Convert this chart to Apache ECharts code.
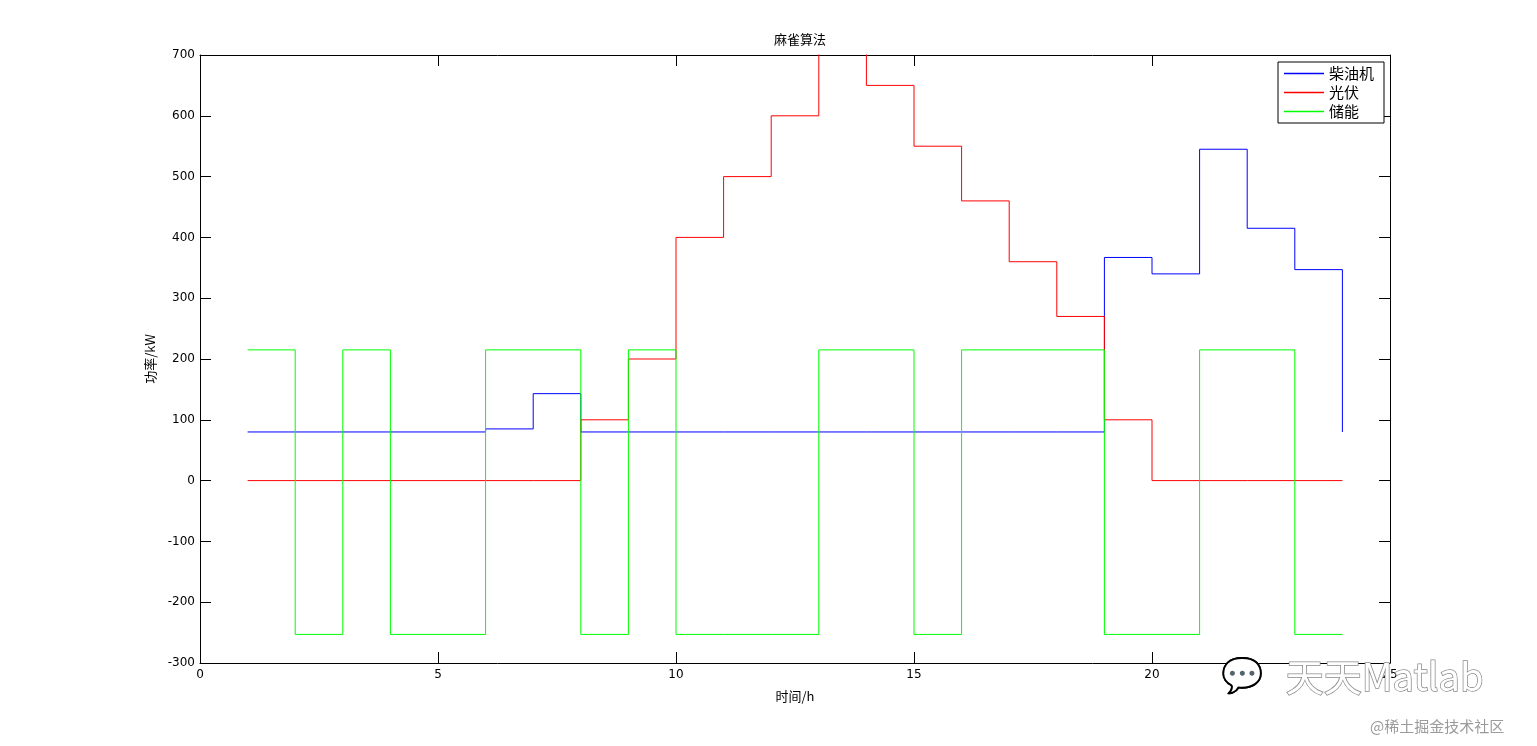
<!DOCTYPE html>
<html>
<head>
<meta charset="utf-8">
<script src="https://cdn.jsdelivr.net/npm/echarts@6/dist/echarts.min.js"></script>
<style>
html,body{margin:0;padding:0;background:#fff;}
#chart{width:1537px;height:746px;}
</style>
</head>
<body>
<div id="chart"></div>
<script>
const hours = [1,2,3,4,5,6,7,8,9,10,11,12,13,14,15,16,17,18,19,20,21,22,23,24];
const diesel = [80,80,80,80,80,85,143,80,80,80,80,80,80,80,80,80,80,80,367,340,545,415,347,80];
const pv = [0,0,0,0,0,0,0,100,200,400,500,600,750,650,550,460,360,270,100,0,0,0,0,0];
const storage = [215,-253,215,-253,-253,215,215,-253,215,-253,-253,-253,215,215,-253,215,215,215,-253,-253,215,215,-253,-253];
const seriesNames = ['柴油机','光伏','储能'];
const xTicks = [0,5,10,15,20,25];

const fontCJK = '"Noto Sans CJK SC", "DejaVu Sans", sans-serif';
const chart = echarts.init(document.getElementById('chart'), null, {renderer:'canvas'});

function pairs(ys){ return hours.map((h,i)=>[h, ys[i]]); }
function mk(name, ys, color){
  return {name, type:'line', step:'end', data:pairs(ys), showSymbol:false, symbol:'none',
    lineStyle:{color, width:1}, itemStyle:{color}, animation:false, clip:true};
}
const axisCommonX = {type:'value', min:0, max:25, interval:5,
  axisLine:{show:true, onZero:false, lineStyle:{color:'#000', width:1}},
  axisTick:{show:true, inside:true, length:11, lineStyle:{color:'#000'}},
  splitLine:{show:false}};
const axisCommonY = {type:'value', min:-300, max:700, interval:100,
  axisLine:{show:true, onZero:false, lineStyle:{color:'#000', width:1}},
  axisTick:{show:true, inside:true, length:11, lineStyle:{color:'#000'}},
  splitLine:{show:false}};

chart.setOption({
  backgroundColor:'#fff',
  animation:false,
  title:{text:'麻雀算法', left:795, textAlign:'center', top:28,
    textStyle:{fontFamily:fontCJK, fontSize:13, fontWeight:'normal', color:'#000'}},
  grid:{left:200, right:147, top:55, bottom:83, containLabel:false},
  legend:{orient:'vertical', left:1278, top:62, padding:[3,10,3,6], itemGap:2,
    borderColor:'#000', borderWidth:1, backgroundColor:'#fff',
    icon:'rect', itemWidth:40, itemHeight:1.5,
    textStyle:{fontFamily:fontCJK, fontSize:15, color:'#000', padding:[0,0,0,0], lineHeight:17},
    data:seriesNames},
  xAxis:[
    Object.assign({}, axisCommonX, {position:'bottom', name:'时间/h', nameLocation:'middle', nameGap:27,
      nameTextStyle:{fontFamily:fontCJK, fontSize:13, color:'#000'},
      axisLabel:{show:true, color:'#000', fontSize:12, margin:6, fontFamily:'"DejaVu Sans", sans-serif',
        customValues: xTicks}}),
    Object.assign({}, axisCommonX, {position:'top', axisLabel:{show:false}})
  ],
  yAxis:[
    Object.assign({}, axisCommonY, {position:'left', name:'功率/kW', nameLocation:'middle', nameGap:43,
      nameTextStyle:{fontFamily:fontCJK, fontSize:13, color:'#000'},
      axisLabel:{show:true, color:'#000', fontSize:12, margin:5, fontFamily:'"DejaVu Sans", sans-serif'}}),
    Object.assign({}, axisCommonY, {position:'right', axisLabel:{show:false}})
  ],
  series:[
    mk(seriesNames[0], diesel, '#0000ff'),
    mk(seriesNames[1], pv, '#ff0000'),
    mk(seriesNames[2], storage, '#00ff00')
  ],
  graphic:[
    {type:'text', left:1285, top:657, z:100,
      style:{text:'天天Matlab', fontSize:38, fontFamily:fontCJK, fill:'#fff', stroke:'#8a8a8a', lineWidth:1.5}},
    {type:'text', left:1220, top:660, z:100,
      style:{text:'💬', fontSize:34, fill:'#fff', stroke:'#8a8a8a', lineWidth:1}},
    {type:'text', left:1370, top:719, z:100,
      style:{text:'@稀土掘金技术社区', fontSize:15, fontFamily:fontCJK, fill:'#9a9a9a'}}
  ]
});
</script>
</body>
</html>
